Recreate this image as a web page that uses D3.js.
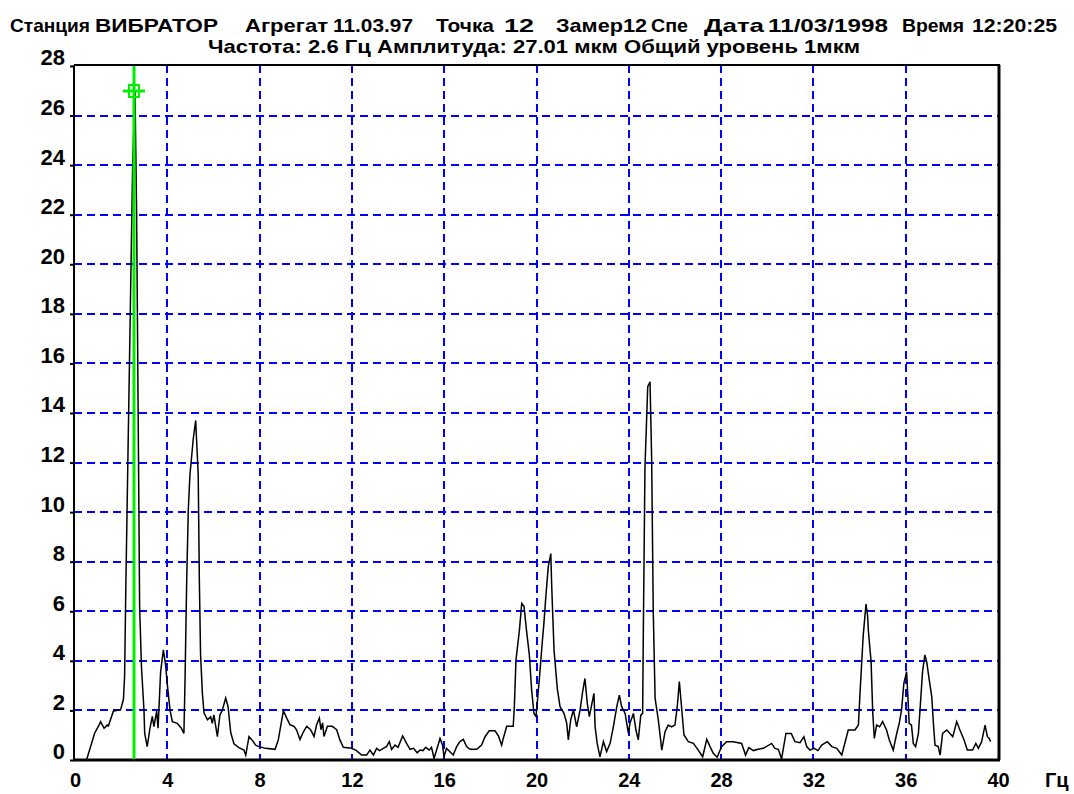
<!DOCTYPE html>
<html>
<head>
<meta charset="utf-8">
<script src="https://cdn.jsdelivr.net/npm/d3@7"></script>
<style>
  html, body { margin: 0; padding: 0; background: #ffffff; }
  svg { display: block; }
  text { font-family: "Liberation Sans", Arial, sans-serif; font-weight: bold; fill: #000; }
</style>
</head>
<body>
<svg id="chart" width="1074" height="794"></svg>
<script>
// Spectrum vertices: frequency (Hz) and amplitude (мкм)
const freqs = [
  0.0, 0.5, 0.85, 1.04, 1.11, 1.26, 1.4, 1.45, 1.66, 1.98, 2.1, 2.15, 2.2, 2.3, 2.4, 2.5, 2.6, 2.67, 2.75, 2.8,
  2.88, 2.99, 3.02, 3.13, 3.25, 3.35, 3.42, 3.54, 3.6, 3.71, 3.83, 3.93, 4.0, 4.12, 4.22, 4.43, 4.61, 4.72, 4.77, 4.84,
  4.91, 4.98, 5.13, 5.23, 5.34, 5.39, 5.44, 5.52, 5.59, 5.74, 5.88, 5.95, 6.02, 6.17, 6.28, 6.38, 6.53, 6.63, 6.75, 6.89,
  7.1, 7.32, 7.4, 7.54, 7.68, 7.83, 7.97, 8.26, 8.67, 8.81, 9.03, 9.17, 9.32, 9.49, 9.6, 9.75, 9.9, 10.04, 10.21, 10.36,
  10.47, 10.59, 10.66, 10.73, 10.79, 10.94, 11.15, 11.34, 11.48, 11.63, 11.99, 12.2, 12.42, 12.64, 12.78, 12.93, 13.07, 13.2, 13.36, 13.5,
  13.62, 13.72, 13.87, 14.0, 14.2, 14.37, 14.52, 14.67, 14.83, 14.95, 15.08, 15.2, 15.35, 15.45, 15.56, 15.67, 15.82, 15.93, 15.99, 16.1,
  16.25, 16.39, 16.54, 16.68, 16.83, 16.97, 17.12, 17.41, 17.62, 17.77, 17.95, 18.2, 18.35, 18.49, 18.56, 18.71, 18.99, 19.04, 19.11, 19.26,
  19.36, 19.46, 19.57, 19.69, 19.79, 19.89, 19.98, 20.08, 20.15, 20.24, 20.32, 20.41, 20.51, 20.62, 20.66, 20.76, 20.9, 21.02, 21.19, 21.31,
  21.38, 21.48, 21.6, 21.74, 21.89, 22.0, 22.1, 22.2, 22.29, 22.39, 22.49, 22.54, 22.63, 22.75, 22.9, 23.04, 23.19, 23.33, 23.48, 23.59,
  23.69, 23.84, 23.98, 24.05, 24.2, 24.31, 24.41, 24.52, 24.6, 24.63, 24.7, 24.82, 24.92, 24.99, 25.06, 25.14, 25.28, 25.43, 25.57, 25.71,
  25.85, 26.0, 26.1, 26.19, 26.26, 26.39, 26.58, 26.8, 27.01, 27.2, 27.38, 27.52, 27.66, 27.83, 28.02, 28.24, 28.53, 28.89, 29.06, 29.2,
  29.4, 29.6, 29.83, 30.19, 30.33, 30.48, 30.62, 30.81, 31.04, 31.2, 31.42, 31.59, 31.71, 31.85, 32.03, 32.2, 32.36, 32.6, 32.8, 33.01,
  33.23, 33.51, 33.8, 33.95, 34.02, 34.16, 34.28, 34.35, 34.38, 34.5, 34.57, 34.64, 34.74, 34.87, 35.0, 35.17, 35.29, 35.46, 35.61, 35.72,
  35.82, 35.92, 36.04, 36.08, 36.15, 36.25, 36.33, 36.43, 36.55, 36.62, 36.73, 36.83, 36.91, 37.02, 37.13, 37.2, 37.27, 37.41, 37.49, 37.6,
  37.78, 37.92, 38.04, 38.21, 38.35, 38.53, 38.67, 38.9, 39.04, 39.15, 39.29, 39.44, 39.54, 39.62, 39.68
];
const amps = [
  0, 0, 1.08, 1.41, 1.55, 1.28, 1.41, 1.38, 1.97, 2.04, 2.45, 3.4, 6.8, 12.6, 18.3, 24.1, 27.01, 22.1, 12.4, 6.2,
  3.76, 2.0, 1.07, 0.54, 1.29, 1.76, 1.35, 1.97, 1.28, 3.56, 4.44, 3.8, 3.05, 2.0, 1.55, 1.48, 1.28, 1.07, 3.3, 7.2,
  10.1, 11.5, 13.0, 13.7, 11.5, 7.2, 4.3, 2.7, 1.9, 1.62, 1.75, 1.48, 1.82, 0.94, 1.82, 2.0, 2.5, 2.17, 1.1, 0.65,
  0.5, 0.4, 0.2, 0.94, 0.8, 0.6, 0.54, 0.47, 0.43, 0.81, 1.99, 1.7, 1.42, 1.36, 1.22, 0.83, 1.14, 1.36, 1.22, 0.95,
  1.42, 1.69, 1.22, 1.5, 0.95, 1.36, 1.36, 1.22, 0.81, 0.51, 0.47, 0.38, 0.2, 0.2, 0.4, 0.2, 0.47, 0.38, 0.47, 0.54,
  0.74, 0.43, 0.6, 0.51, 0.97, 0.67, 0.43, 0.47, 0.29, 0.4, 0.38, 0.51, 0.4, 0.51, 0.07, 0.4, 0.87, 0.6, 0.13, 0.47,
  0.33, 0.2, 0.54, 0.74, 0.83, 0.54, 0.43, 0.43, 0.6, 0.94, 1.18, 1.18, 0.97, 0.6, 0.87, 1.36, 1.36, 2.15, 4.03, 5.24,
  6.32, 6.2, 5.2, 4.24, 2.82, 1.88, 1.75, 2.82, 3.56, 4.64, 5.51, 6.66, 7.8, 8.33, 6.99, 4.44, 2.89, 2.15, 1.88, 1.48,
  0.81, 1.61, 2.02, 1.34, 2.02, 2.76, 3.29, 2.29, 1.75, 2.22, 2.69, 1.34, 0.67, 0.13, 0.74, 0.34, 0.67, 1.34, 2.15, 2.62,
  2.15, 1.88, 1.08, 1.48, 1.88, 1.21, 0.81, 1.81, 1.88, 5.24, 11.77, 15.06, 15.26, 12.16, 5.98, 2.49, 1.61, 0.4, 1.14, 1.41,
  1.34, 1.41, 2.15, 3.16, 2.42, 1.01, 0.74, 0.67, 0.4, 0.13, 0.83, 0.54, 0.27, 0.11, 0.54, 0.74, 0.74, 0.67, 0.2, 0.5,
  0.38, 0.43, 0.47, 0.67, 0.47, 0.43, 0.05, 1.07, 1.07, 0.74, 0.7, 0.94, 0.54, 0.4, 0.47, 0.38, 0.6, 0.74, 0.54, 0.47,
  0.2, 1.21, 1.21, 1.41, 2.69, 5.04, 6.29, 5.81, 5.24, 3.97, 1.95, 0.87, 1.41, 1.34, 1.55, 1.21, 0.81, 0.4, 1.07, 1.48,
  2.02, 3.09, 3.56, 2.82, 1.48, 1.41, 0.67, 0.54, 1.07, 2.02, 3.56, 4.24, 3.97, 3.23, 2.55, 1.48, 0.6, 0.54, 0.2, 1.07,
  1.21, 1.07, 0.94, 1.55, 1.21, 0.81, 0.4, 0.4, 0.67, 0.47, 0.74, 1.41, 0.94, 0.87, 0.74
];

// Axis ticks
const xTicks = [0, 4, 8, 12, 16, 20, 24, 28, 32, 36, 40];
const yTicks = [0, 2, 4, 6, 8, 10, 12, 14, 16, 18, 20, 22, 24, 26, 28];
const xUnit = "Гц";

// Cursor readout
const cursorFreq = 2.6;
const cursorAmp = 27.01;

// Header text, one entry per field
const headerFields = [
  "Станция", "ВИБРАТОР", "Агрегат", "11.03.97", "Точка", "12",
  "Замер12", "Спе", "Дата", "11/03/1998", "Время", "12:20:25"
];
const subtitle = "Частота: 2.6 Гц Амплитуда: 27.01 мкм Общий уровень 1мкм";

(function draw() {
  const svg = d3.select("#chart");
  const plotLeft = 74, plotRight = 999, plotTop = 65, plotBottom = 760;

  const x = d3.scaleLinear().domain([0, 40]).range([75, 998]);
  const y = d3.scaleLinear().domain([0, 28]).range([plotBottom, 66]);

  // Header: field start positions and widths along the first line
  const headerPos = [
    [10, 80], [95, 123], [245, 83], [333, 80], [436, 58], [504, 30],
    [556, 91], [651, 37], [704, 60], [768, 120], [902, 62], [972, 85]
  ];
  svg.append("g").selectAll("text")
    .data(headerFields)
    .join("text")
    .attr("x", (d, i) => headerPos[i][0])
    .attr("y", 32)
    .attr("font-size", 19)
    .attr("textLength", (d, i) => headerPos[i][1])
    .attr("lengthAdjust", "spacingAndGlyphs")
    .text(d => d);

  svg.append("text")
    .attr("x", 208)
    .attr("y", 53)
    .attr("font-size", 19)
    .attr("textLength", 652)
    .attr("lengthAdjust", "spacingAndGlyphs")
    .text(subtitle);

  // Dashed grid
  const grid = svg.append("g")
    .attr("stroke", "#0000ff")
    .attr("stroke-width", 2)
    .attr("stroke-dasharray", "8,5")
    .attr("fill", "none");

  grid.selectAll("line.h")
    .data(yTicks.filter(v => v > 0 && v < 28))
    .join("line")
    .attr("class", "h")
    .attr("x1", plotLeft).attr("x2", plotRight)
    .attr("y1", d => Math.round(y(d)))
    .attr("y2", d => Math.round(y(d)));

  grid.selectAll("line.v")
    .data(xTicks.filter(v => v > 0 && v < 40))
    .join("line")
    .attr("class", "v")
    .attr("y1", plotTop).attr("y2", plotBottom)
    .attr("x1", d => Math.round(x(d)))
    .attr("x2", d => Math.round(x(d)));

  // Spectrum trace
  const line = d3.line()
    .x((d, i) => x(freqs[i]))
    .y((d, i) => y(amps[i]));

  svg.append("path")
    .datum(amps)
    .attr("fill", "none")
    .attr("stroke", "#000")
    .attr("stroke-width", 1.5)
    .attr("stroke-linejoin", "miter")
    .attr("d", line);

  // Frame
  const frame = svg.append("g").attr("stroke", "#000").attr("fill", "none");
  frame.append("line").attr("x1", plotLeft).attr("x2", plotRight + 1).attr("y1", plotTop).attr("y2", plotTop).attr("stroke-width", 2);
  frame.append("line").attr("x1", plotRight).attr("x2", plotRight).attr("y1", plotTop).attr("y2", plotBottom).attr("stroke-width", 3);
  frame.append("line").attr("x1", plotLeft).attr("x2", plotLeft).attr("y1", plotTop).attr("y2", plotBottom).attr("stroke-width", 2);
  frame.append("line").attr("x1", plotLeft - 1).attr("x2", plotRight + 1).attr("y1", plotBottom).attr("y2", plotBottom).attr("stroke-width", 3);

  // Y axis labels
  const yAxis = d3.axisLeft(y).tickValues(yTicks).tickSize(4).tickPadding(5).tickFormat(d3.format("d"));
  const gy = svg.append("g").attr("transform", `translate(${plotLeft},0)`).call(yAxis);
  gy.select(".domain").remove();
  gy.selectAll(".tick line").attr("stroke", "#000").attr("stroke-width", 2);
  gy.selectAll(".tick text")
    .attr("font-size", 22)
    .attr("font-family", "Liberation Sans, Arial, sans-serif")
    .attr("font-weight", "bold")
    .attr("dy", "-0.05em")
    .attr("fill", "#000");

  // X axis labels
  const xAxis = d3.axisBottom(x).tickValues(xTicks).tickSize(0).tickPadding(0).tickFormat(d3.format("d"));
  const gx = svg.append("g").attr("transform", `translate(0,${plotBottom})`).call(xAxis);
  gx.select(".domain").remove();
  gx.selectAll(".tick text")
    .attr("font-size", 20)
    .attr("font-family", "Liberation Sans, Arial, sans-serif")
    .attr("font-weight", "bold")
    .attr("y", 27)
    .attr("dy", 0)
    .attr("fill", "#000");

  svg.append("text")
    .attr("x", 1045)
    .attr("y", 787)
    .attr("font-size", 20)
    .text(xUnit);

  // Cursor line and marker
  const cx = Math.round(x(cursorFreq)) - 1;
  const cy = Math.round(y(cursorAmp));
  const cursor = svg.append("g").attr("stroke", "#00ee00").attr("fill", "none");
  cursor.append("line")
    .attr("x1", cx).attr("x2", cx)
    .attr("y1", plotTop + 1).attr("y2", plotBottom - 1)
    .attr("stroke-width", 3);
  cursor.append("line")
    .attr("x1", cx - 11).attr("x2", cx + 11)
    .attr("y1", cy).attr("y2", cy)
    .attr("stroke-width", 3);
  cursor.append("rect")
    .attr("x", cx - 5).attr("y", cy - 6)
    .attr("width", 10).attr("height", 12)
    .attr("stroke-width", 2);
})();
</script>
</body>
</html>
